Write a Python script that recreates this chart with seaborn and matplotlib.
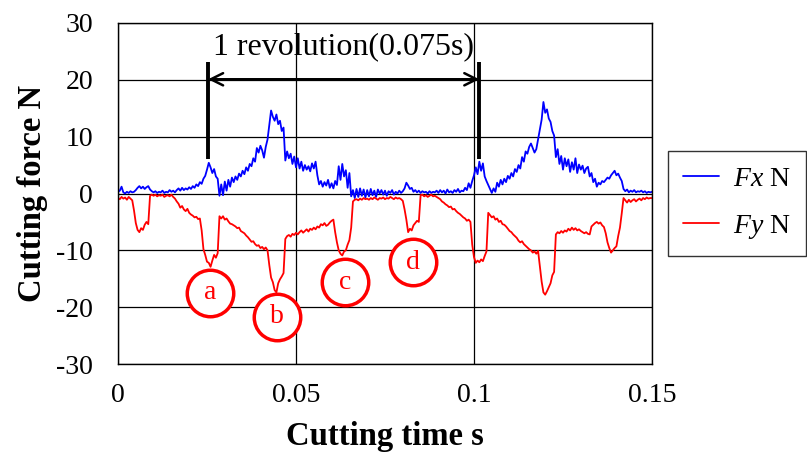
import numpy as np
import pandas as pd
import matplotlib
matplotlib.use("Agg")
import matplotlib.pyplot as plt
import seaborn as sns

# Sampled cutting forces, one value every 0.5 ms from 0 to 0.15 s
t_step = 0.0005
fx_values = [
    # 0.000 - 0.0095
    0.3, 0.5, 1.2, 0.2, 0.0, 0.3, 0.1, 0.4, 0.2, 0.3, 0.6, 1.0, 1.3, 0.9, 1.2, 0.8, 1.1, 1.3, 0.7, 0.4,
    # 0.010 - 0.0195
    0.2, 0.4, 0.1, 0.3, 0.2, 0.5, 0.1, 0.3, 0.2, 0.6, 0.3, 0.5, 0.2, 0.6, 0.9, 0.5, 1.0, 0.6, 0.9, 0.7,
    # 0.020 - 0.0295
    1.1, 0.8, 1.3, 1.0, 1.6, 1.3, 2.0, 1.7, 2.6, 3.1, 4.2, 5.4, 4.6, 3.6, 4.3, 3.0, 2.6, -0.4, 1.6, -0.3,
    # 0.030 - 0.0395
    2.1, 0.5, 2.4, 1.2, 2.8, 2.0, 3.0, 2.4, 3.5, 3.0, 4.0, 3.4, 4.6, 4.0, 5.2, 4.8, 6.2, 5.6, 8.0, 7.2,
    # 0.040 - 0.0495
    8.4, 7.6, 6.3, 8.2, 9.5, 12.0, 14.6, 13.5, 12.8, 13.9, 12.2, 12.8, 11.0, 11.6, 5.8, 7.4, 6.2, 7.0, 5.2, 6.5,
    # 0.050 - 0.0595
    4.6, 6.2, 4.4, 5.6, 4.0, 5.0, 4.2, 4.8, 3.9, 5.3, 4.4, 5.6, 3.2, 1.6, 2.2, 1.2, 2.0, 1.4, 2.4, 1.0,
    # 0.060 - 0.0695
    1.8, 0.9, 2.2, 1.5, 4.8, 2.4, 5.2, 3.0, 4.1, 1.0, 3.6, -0.5, 0.6, -0.8, 0.8, -0.6, 0.9, -0.4, 0.7, -0.7,
    # 0.070 - 0.0795
    0.6, -0.5, 0.8, -0.3, 0.5, -0.6, 0.7, 0.0, 0.6, -0.2, 0.5, -0.4, 0.4, 0.1, 0.6, -0.2, 0.3, 0.0, 0.5, 0.1,
    # 0.080 - 0.0895
    0.4, 0.9, 1.9, 1.4, 0.8, 1.0, 0.3, 0.6, 0.2, 0.5, 0.1, 0.4, 0.2, 0.3, 0.0, 0.4, 0.1, 0.3, 0.2, 0.5,
    # 0.090 - 0.0995
    0.1, 0.6, 0.2, 0.5, 0.0, 0.7, 0.2, 0.4, 0.1, 0.6, 0.3, 0.8, 0.2, 0.5, 0.4, 1.0, 0.6, 1.8, 1.0, 2.2,
    # 0.100 - 0.1095
    3.2, 4.6, 3.4, 5.6, 4.0, 5.3, 3.0, 2.2, 1.5, 0.8, 0.1, 0.9, 0.3, 1.9, 1.2, 2.4, 1.6, 2.6, 2.0, 3.1,
    # 0.110 - 0.1195
    2.6, 3.6, 3.0, 4.3, 3.8, 5.0, 4.4, 6.4, 5.6, 7.4, 7.0, 8.2, 8.8, 8.0, 7.2, 7.8, 9.5, 11.2, 13.0, 16.1,
    # 0.120 - 0.1295
    14.2, 14.8, 13.2, 12.6, 11.0, 10.2, 6.4, 7.8, 5.2, 6.6, 4.2, 6.2, 4.8, 6.0, 3.8, 5.5, 4.2, 6.2, 3.6, 5.1,
    # 0.130 - 0.1395
    4.2, 4.9, 3.6, 4.4, 4.7, 3.0, 3.6, 2.0, 2.6, 1.2, 1.9, 1.6, 2.2, 2.0, 2.4, 2.8, 2.6, 3.2, 3.6, 4.0,
    # 0.140 - 0.1495
    3.2, 3.5, 2.8, 2.2, 0.8, 0.4, 0.7, 0.2, 0.5, 0.3, 0.6, 0.2, 0.4, 0.3, 0.5, 0.2, 0.4, 0.1, 0.3, 0.2,
    # 0.150
    0.3,
]
fy_values = [
    # 0.000 - 0.0095
    -0.8, -1.0, -0.6, -0.9, -0.7, -1.1, -0.6, -0.9, -1.2, -3.0, -5.2, -6.4, -6.8, -6.1, -6.4, -5.5, -5.0, -5.4, -0.4, -0.2,
    # 0.010 - 0.0195
    -0.4, -0.2, -0.5, -0.3, -0.4, -0.2, -0.6, -0.4, -0.3, -0.5, -0.2, -0.6, -0.9, -1.4, -1.8, -2.5, -2.2, -2.8, -3.1, -2.7,
    # 0.020 - 0.0295
    -3.4, -3.7, -3.9, -4.2, -4.1, -4.5, -4.4, -6.5, -9.8, -10.8, -12.0, -12.2, -12.9, -11.8, -10.8, -11.3, -10.5, -4.0, -4.4, -4.0,
    # 0.030 - 0.0395
    -4.6, -4.4, -4.9, -5.3, -5.4, -5.6, -5.8, -6.1, -6.0, -6.6, -6.8, -7.0, -7.4, -7.7, -8.1, -8.5, -8.4, -8.9, -9.2, -9.1,
    # 0.040 - 0.0495
    -9.6, -9.4, -9.8, -9.5, -10.0, -12.6, -14.8, -15.6, -17.0, -17.4, -15.8, -15.1, -14.6, -14.0, -8.0, -7.5, -7.3, -7.6, -7.1, -7.3,
    # 0.050 - 0.0595
    -6.9, -7.2, -6.8, -6.5, -6.9, -6.6, -6.3, -6.7, -6.2, -6.4, -6.0, -6.3, -5.8, -6.0, -5.4, -5.6, -5.2, -5.7, -5.5, -5.1,
    # 0.060 - 0.0695
    -4.8, -4.6, -6.8, -8.6, -10.0, -10.6, -10.9, -10.2, -10.0, -9.0, -8.2, -6.0, -1.4, -1.1, -1.0, -1.2, -0.9, -1.1, -0.8, -1.0,
    # 0.070 - 0.0795
    -0.9, -1.1, -0.8, -1.0, -0.7, -0.9, -1.1, -0.8, -0.9, -0.7, -1.0, -0.8, -0.9, -0.6, -0.8, -1.0, -0.7, -0.9, -0.8, -1.0,
    # 0.080 - 0.0895
    -1.3, -2.8, -4.6, -6.8, -6.2, -6.5, -5.6, -5.2, -4.8, -5.0, -0.3, -0.2, -0.5, -0.3, -0.6, -0.4, -0.2, -0.5, -0.4, -0.6,
    # 0.090 - 0.0995
    -0.8, -1.0, -1.4, -1.6, -1.9, -2.1, -2.4, -2.3, -2.8, -2.7, -3.1, -3.4, -3.6, -3.9, -4.2, -4.4, -4.8, -4.6, -5.0, -9.0,
    # 0.100 - 0.1095
    -11.2, -12.2, -11.8, -12.1, -11.6, -11.9, -11.0, -10.2, -3.4, -3.8, -4.2, -4.0, -4.6, -4.4, -5.0, -4.8, -5.4, -5.5, -5.8, -6.2,
    # 0.110 - 0.1195
    -6.6, -6.8, -7.2, -7.5, -7.8, -8.3, -8.6, -8.4, -8.9, -9.2, -9.5, -9.8, -10.0, -10.4, -10.2, -10.6, -10.1, -12.8, -15.5, -17.4,
    # 0.120 - 0.1295
    -17.8, -17.2, -16.5, -15.8, -14.4, -13.8, -7.2, -6.8, -7.0, -6.6, -6.9, -6.5, -6.7, -6.2, -6.5, -6.0, -6.4, -6.1, -6.5, -6.3,
    # 0.130 - 0.1395
    -6.6, -6.8, -7.0, -6.8, -7.1, -7.2, -5.8, -5.5, -5.2, -5.0, -5.3, -5.1, -5.6, -5.9, -7.0, -8.6, -9.6, -10.4, -10.0, -9.6,
    # 0.140 - 0.1495
    -9.3, -7.5, -6.0, -3.5, -0.8, -1.2, -1.6, -1.1, -1.5, -1.2, -1.0, -1.4, -1.1, -0.9, -1.2, -0.8, -1.0, -0.7, -0.9, -0.8,
    # 0.150
    -0.8,
]
series_labels = [r"$\mathit{Fx}$ N", r"$\mathit{Fy}$ N"]

# Tick labels
x_ticks = [0, 0.05, 0.1, 0.15]
x_tick_labels = ["0", "0.05", "0.1", "0.15"]
y_ticks = [-30, -20, -10, 0, 10, 20, 30]

# Cut-point markers a-d
mark_letters = ["a", "b", "c", "d"]
mark_x = [0.0258, 0.0447, 0.0637, 0.0829]
mark_y = [-17.5, -21.7, -15.6, -12.1]

# One revolution span
rev_start = 0.0253
rev_end = 0.1015
rev_text = "1 revolution(0.075s)"

t = np.round(np.arange(len(fx_values)) * t_step, 6)
df = pd.DataFrame({"t": t, "Fx": fx_values, "Fy": fy_values})

sns.set_style("white")
plt.rcParams["font.family"] = ["Liberation Serif", "DejaVu Serif"]
plt.rcParams["mathtext.fontset"] = "custom"
plt.rcParams["mathtext.rm"] = "Liberation Serif"
plt.rcParams["mathtext.it"] = "Liberation Serif:italic"
plt.rcParams["axes.unicode_minus"] = False
plt.rcParams["text.color"] = "black"
plt.rcParams["axes.labelcolor"] = "black"

fig = plt.figure(figsize=(8.07, 4.55), dpi=100)
ax = fig.add_axes([118 / 807, 1 - 364 / 455, (652 - 118) / 807, (364 - 23) / 455])

sns.lineplot(data=df, x="t", y="Fx", color="#0000ff", lw=1.3, ax=ax, label=series_labels[0])
sns.lineplot(data=df, x="t", y="Fy", color="#ff0000", lw=1.3, ax=ax, label=series_labels[1])

ax.set_xlim(0, 0.15)
ax.set_ylim(-30, 30)
ax.set_xticks(x_ticks)
ax.set_xticklabels(x_tick_labels)
ax.set_yticks(y_ticks)
ax.tick_params(axis="both", length=0, labelsize=20, colors="black")
ax.tick_params(axis="y", pad=18)
ax.tick_params(axis="x", pad=14)
ax.grid(True, color="black", lw=0.9)
ax.set_axisbelow(True)
for s in ax.spines.values():
    s.set_color("black")
    s.set_linewidth(1.0)

ax.set_xlabel("Cutting time s", fontsize=23.5, fontweight="bold", labelpad=9)
ax.set_ylabel("Cutting force N", fontsize=23.5, fontweight="bold", labelpad=6)

# Revolution bracket
for xv in (rev_start, rev_end):
    ax.plot([xv, xv], [6.0, 23.2], color="black", lw=2.8, solid_capstyle="butt", zorder=4)
ax.annotate("", xy=(rev_end, 20.1), xytext=(rev_start, 20.1),
            arrowprops=dict(arrowstyle="<->", color="black", lw=1.8, mutation_scale=22,
                            shrinkA=0, shrinkB=0), zorder=4)
ax.text((rev_start + rev_end) / 2, 25.9, rev_text, fontsize=23, ha="center", va="center")

# Circled letters
ax.scatter(mark_x, mark_y, s=1120, facecolor="white", edgecolor="#ff0000", linewidth=2.5, zorder=5)
for lx, ly, letter in zip(mark_x, mark_y, mark_letters):
    ax.text(lx, ly, letter, color="#ff0000", fontsize=20, ha="center", va="center", zorder=6)

ax.get_legend().remove()
handles, labels = ax.get_legend_handles_labels()
leg = fig.legend(handles, labels, loc="upper left", bbox_to_anchor=(668 / 807, 1 - 151 / 455),
                 fontsize=20, frameon=True, fancybox=False, edgecolor="black",
                 handlelength=1.3, handletextpad=0.5, labelspacing=0.75, borderpad=0.55,
                 borderaxespad=0)
leg.get_frame().set_linewidth(1.0)
for h in leg.get_lines():
    h.set_linewidth(1.3)

fig.savefig("out.png", dpi=100)
